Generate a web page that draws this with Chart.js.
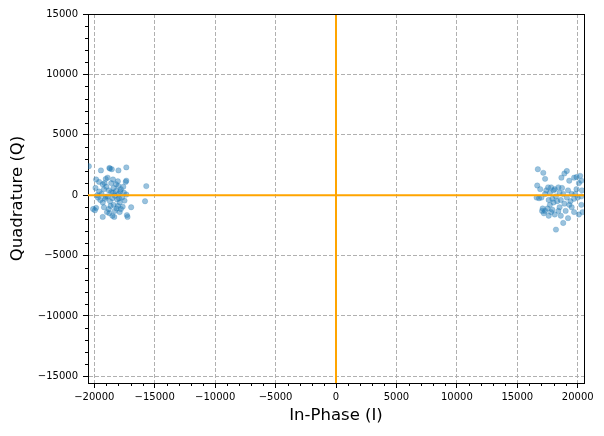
<!DOCTYPE html>
<html>
<head>
<meta charset="utf-8">
<script src="https://cdn.jsdelivr.net/npm/chart.js@4/dist/chart.umd.min.js"></script>
<style>
  html, body { margin: 0; padding: 0; background: #fff; }
  #wrap { width: 604px; height: 436px; }
</style>
</head>
<body>
<div id="wrap"><canvas id="iqChart" width="604" height="436"></canvas></div>
<script>
// Received symbols (I, Q), left cluster around -18500
const leftCluster = [
  [-20450, 2400], [-19850, 1300], [-19450, 2050], [-18750, 2250], [-18550, 2150],
  [-18000, 2050], [-17350, 2300], [-19300, 900], [-19050, 1350], [-18450, 1300],
  [-18050, 1150], [-18000, 750], [-17350, 1200], [-15700, 750], [-15800, -500],
  [-16950, -1000], [-17350, 50], [-17400, 1100], [-17300, -1650], [-17250, -1800],
  [-19850, -1050], [-19950, -1250], [-19300, -1800], [-18950, -1400], [-18750, -1500],
  [-18650, -900], [-17900, -1400], [-17800, -1150], [-18400, -800], [-19600, 300],
  [-19400, 100], [-19200, 500], [-19000, 700], [-18800, 400], [-18600, 250],
  [-18400, 600], [-18200, 350], [-18000, 100], [-17800, 500], [-17600, 700],
  [-19700, -200], [-19500, -400], [-19300, -600], [-19100, -300], [-18900, -100],
  [-18700, -500], [-18500, -250], [-18300, -50], [-18100, -350], [-17900, -600],
  [-17700, -200], [-17500, -450], [-19200, -1000], [-18800, -1150], [-18500, -1700],
  [-18300, -1300], [-18050, -900], [-17650, -950], [-19900, 600], [-19150, 1000],
  [-18600, 1000], [-18200, 900], [-17850, 300], [-18700, 2200], [-19750, 0],
  [-18350, -1800], [-19050, -150], [-18450, 200], [-17950, -250], [-17550, 200],
  [-19600, 1100], [-20100, -1150], [-18900, 1450], [-18150, -1100]
]

// Right cluster around +18500
const rightCluster = [
  [16650, 800], [16700, 2150], [17150, 1850], [17300, 1350], [17550, 650],
  [17800, 650], [18100, 500], [18400, 650], [18900, 1800], [19100, 2000],
  [18650, 1450], [19300, 1200], [19700, 1450], [19900, 1500], [20100, 1000],
  [20200, 1600], [20300, 1200], [20350, 400], [20300, -800], [20100, -1600],
  [19700, -1400], [19500, -1000], [19200, -1900], [18800, -2300], [18200, -2850],
  [19000, -1300], [18500, -1000], [18100, -1600], [17800, -1400], [17500, -1100],
  [17300, -1300], [17100, -1100], [17200, -1500], [17600, -1700], [17900, -1200],
  [16800, -250], [17000, -200], [17300, 100], [17600, -400], [17900, -300],
  [18200, -100], [18500, 200], [18800, 100], [19100, -200], [19400, -500],
  [19700, -300], [20000, -200], [20300, -100], [16900, 500], [17400, 400],
  [17700, 200], [18000, -600], [18300, -500], [18600, -400], [18900, -700],
  [19200, 400], [19500, 100], [19900, 500], [18700, 600], [18000, 400],
  [17700, -800], [18400, -1300], [19300, -800], [20400, -1400], [17050, -1300],
  [18600, -1700], [19800, 100], [16600, -200]
]

// Axis limits and tick labels
const xLimits = [-20520, 20520]
const yLimits = [-15550, 15000]
const xTicks = [-20000, -15000, -10000, -5000, 0, 5000, 10000, 15000, 20000]
const yTicks = [-15000, -10000, -5000, 0, 5000, 10000, 15000]
const minorStep = 1000

const FONT = 'DejaVu Sans'

function toPoints(pairs) {
  return pairs.map(p => ({ x: p[0], y: p[1] }))
}

function fmt(v) {
  // matplotlib uses a real minus sign
  return v < 0 ? '\u2212' + Math.abs(v) : String(v)
}

// Draws minor ticks and the top/right frame, like matplotlib
const framePlugin = {
  id: 'framePlugin',
  afterDraw(chart) {
    const ctx = chart.ctx
    const area = chart.chartArea
    const xs = chart.scales.x
    const ys = chart.scales.y
    ctx.save()
    ctx.strokeStyle = '#000'
    ctx.lineWidth = 1
    ctx.beginPath()
    for (let v = -20000; v <= 20000; v += minorStep) {
      if (v % 5000 === 0) continue
      const px = Math.round(xs.getPixelForValue(v)) + 0.5
      ctx.moveTo(px, area.bottom)
      ctx.lineTo(px, area.bottom + 3)
    }
    for (let v = -15000; v <= 15000; v += minorStep) {
      if (v % 5000 === 0) continue
      const py = Math.round(ys.getPixelForValue(v)) + 0.5
      ctx.moveTo(area.left, py)
      ctx.lineTo(area.left - 3, py)
    }
    ctx.stroke()
    ctx.beginPath()
    ctx.moveTo(area.left, Math.round(area.top) + 0.5)
    ctx.lineTo(area.right, Math.round(area.top) + 0.5)
    ctx.moveTo(Math.round(area.right) + 0.5, area.top)
    ctx.lineTo(Math.round(area.right) + 0.5, area.bottom)
    ctx.stroke()
    ctx.restore()
  }
}

const gridOpts = {
  color: '#b0b0b0',
  lineWidth: 1,
  tickColor: '#000',
  tickLength: 5,
  drawTicks: true
}

const ctx = document.getElementById('iqChart').getContext('2d')
new Chart(ctx, {
  type: 'scatter',
  data: {
    datasets: [
      {
        data: [{ x: xLimits[0], y: 0 }, { x: xLimits[1], y: 0 }],
        showLine: true,
        borderColor: '#ffa500',
        borderWidth: 2,
        pointRadius: 0,
        order: 0
      },
      {
        data: [{ x: 0, y: yLimits[0] }, { x: 0, y: yLimits[1] }],
        showLine: true,
        borderColor: '#ffa500',
        borderWidth: 2,
        pointRadius: 0,
        order: 0
      },
      {
        data: toPoints(leftCluster.concat(rightCluster)),
        backgroundColor: 'rgba(31, 119, 180, 0.45)',
        borderColor: 'rgba(31, 119, 180, 0.45)',
        borderWidth: 0.5,
        pointRadius: 2.7,
        order: 1,
        clip: { left: 0, top: 0, right: 0, bottom: 0 }
      }
    ]
  },
  options: {
    responsive: false,
    animation: false,
    devicePixelRatio: 1,
    layout: { padding: { left: 0, right: 20, top: 14, bottom: 0 } },
    plugins: {
      legend: { display: false },
      tooltip: { enabled: false }
    },
    scales: {
      x: {
        type: 'linear',
        min: xLimits[0],
        max: xLimits[1],
        afterBuildTicks: s => { s.ticks = xTicks.map(v => ({ value: v })) },
        afterFit: s => { s.height = 53 },
        ticks: {
          color: '#000',
          font: { family: FONT, size: 10 },
          padding: 3,
          maxRotation: 0,
          autoSkip: false,
          callback: v => fmt(v)
        },
        grid: gridOpts,
        border: { display: true, color: '#000', width: 1, dash: [4, 2] },
        title: {
          display: true,
          text: 'In-Phase (I)',
          color: '#000',
          font: { family: FONT, size: 16.5 },
          padding: { top: 2, bottom: 10 }
        }
      },
      y: {
        type: 'linear',
        min: yLimits[0],
        max: yLimits[1],
        afterBuildTicks: s => { s.ticks = yTicks.map(v => ({ value: v })) },
        afterFit: s => { s.width = 88 },
        ticks: {
          color: '#000',
          font: { family: FONT, size: 10 },
          padding: 5,
          autoSkip: false,
          callback: v => fmt(v)
        },
        grid: gridOpts,
        border: { display: true, color: '#000', width: 1, dash: [4, 2] },
        title: {
          display: true,
          text: 'Quadrature (Q)',
          color: '#000',
          font: { family: FONT, size: 16.5 },
          padding: { top: 8, bottom: 2 }
        }
      }
    }
  },
  plugins: [framePlugin]
})
</script>
</body>
</html>
